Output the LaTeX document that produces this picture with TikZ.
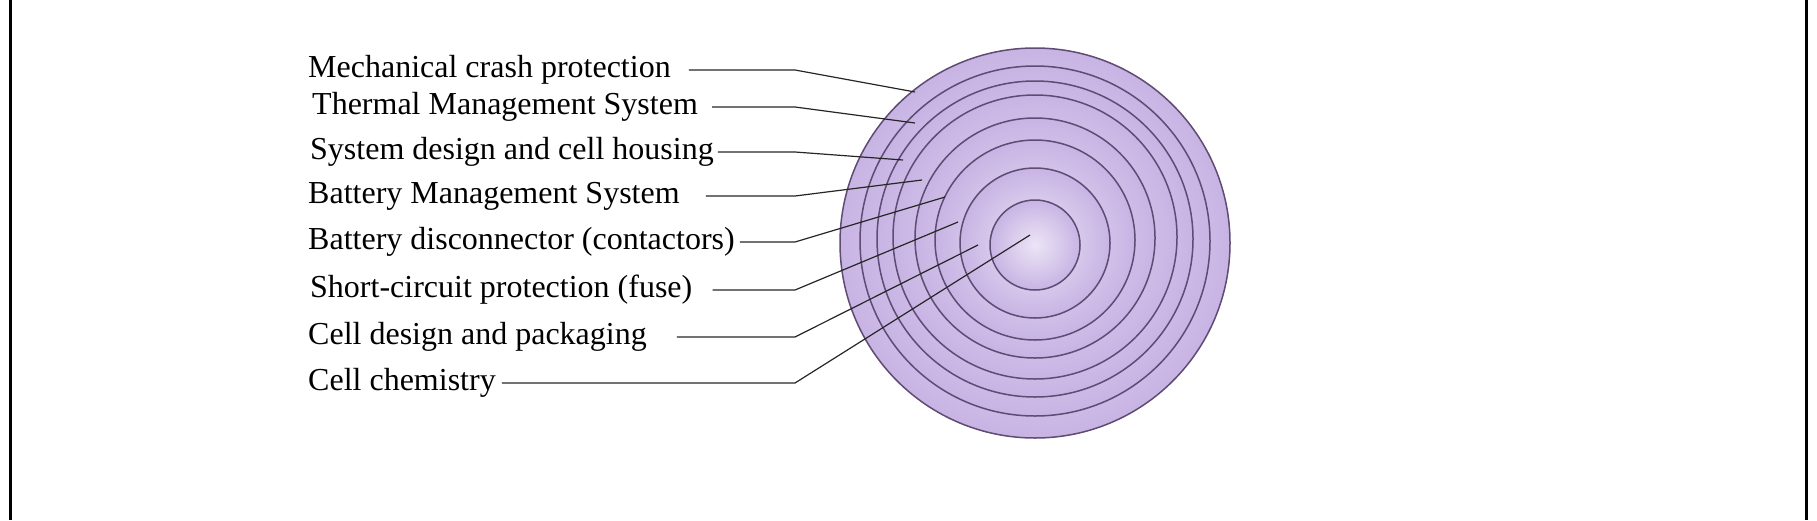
\documentclass[tikz,border=0pt]{standalone}
\usepackage{fontspec}
\setmainfont{Liberation Serif}
\definecolor{ringfill}{RGB}{200,180,228}
\definecolor{ringline}{RGB}{95,75,115}
\tikzset{layer/.style={draw=ringline, line width=1.5pt, inner color=ringfill!35, outer color=ringfill},
  lbl/.style={anchor=west, inner sep=0pt, font=\fontsize{32}{32}\selectfont},
  lead/.style={draw=black!85, line width=1.2pt}}
\begin{document}
\begin{tikzpicture}[x=1pt, y=-1pt]
\useasboundingbox (0,0) rectangle (1817,520);
\draw[line width=3pt] (10,0) -- (10,520);
\draw[line width=3pt] (1806,0) -- (1806,520);
% rings, outer to inner
\foreach \r/\cy in {195/243, 175/241, 158/239, 142/237, 120/238, 100/240, 75/243, 45/245}
  \fill[layer] (1035,\cy) circle (\r);
% labels
\node[lbl] (mech) at (308,70) {Mechanical crash protection};
\node[lbl] (therm) at (312,107) {Thermal Management System};
\node[lbl] (sys) at (310,152) {System design and cell housing};
\node[lbl] (bms) at (308,196) {Battery Management System};
\node[lbl] (disc) at (308,242) {Battery disconnector (contactors)};
\node[lbl] (fuse) at (310,290) {Short-circuit protection (fuse)};
\node[lbl] (pack) at (308,337) {Cell design and packaging};
\node[lbl] (chem) at (308,383) {Cell chemistry};
% leaders
\coordinate (bend) at (795,0);
\coordinate (e1) at (915,92);
\coordinate (e2) at (915,123);
\coordinate (e3) at (903,160);
\coordinate (e4) at (922,180);
\coordinate (e5) at (945,197);
\coordinate (e6) at (958,222);
\coordinate (e7) at (978,245);
\coordinate (e8) at (1030,235);
\draw[lead] ([xshift=18pt]mech.east) -- (mech.east -| bend) -- (e1);
\draw[lead] ([xshift=14pt]therm.east) -- (therm.east -| bend) -- (e2);
\draw[lead] ([xshift=4pt]sys.east) -- (sys.east -| bend) -- (e3);
\draw[lead] ([xshift=26pt]bms.east) -- (bms.east -| bend) -- (e4);
\draw[lead] ([xshift=5pt]disc.east) -- (disc.east -| bend) -- (e5);
\draw[lead] ([xshift=20pt]fuse.east) -- (fuse.east -| bend) -- (e6);
\draw[lead] ([xshift=30pt]pack.east) -- (pack.east -| bend) -- (e7);
\draw[lead] ([xshift=6pt]chem.east) -- (chem.east -| bend) -- (e8);
\end{tikzpicture}
\end{document}
